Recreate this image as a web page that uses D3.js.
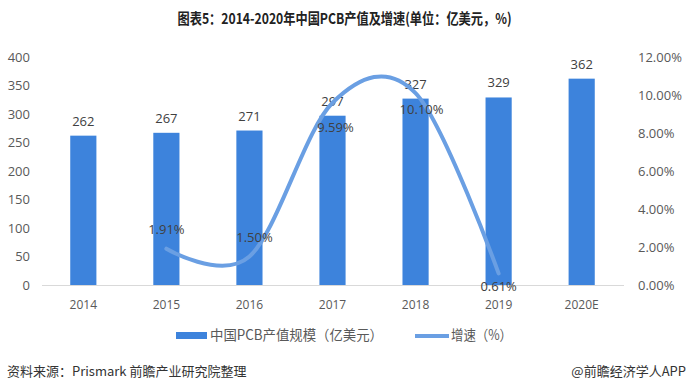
<!DOCTYPE html>
<html><head><meta charset="utf-8">
<script src="https://cdn.jsdelivr.net/npm/d3@7"></script>
<style>body{margin:0;background:#fff;}svg{display:block;font-family:"Noto Sans CJK SC","Microsoft YaHei",sans-serif;}</style>
</head><body>
<svg id="c" width="689" height="392"></svg>
<script>
const categories = ["2014","2015","2016","2017","2018","2019","2020E"];
const values = [262,267,271,297,327,329,362];
const growthYears = ["2015","2016","2017","2018","2019"];
const growth = [1.91,1.50,9.59,10.10,0.61];
const leftTicks = [0,50,100,150,200,250,300,350,400];
const rightTicks = [0,2,4,6,8,10,12];

// label placement (layout, not data)
const growthLabelDx = [0,5,3,6,0];
const growthLabelDy = [-15,-15,29,21,18];

const svg = d3.select("#c");
const W=689,H=392;
svg.append("rect").attr("width",W).attr("height",H).attr("fill","#fff");

const x = d3.scaleBand().domain(categories).range([42,623]).paddingInner(0.685).paddingOuter(0.34);
const y = d3.scaleLinear().domain([0,400]).range([285,57]);
const y2 = d3.scaleLinear().domain([0,12]).range([285,57]);
const cx = d => x(d)+x.bandwidth()/2;
const numFont = "'Open Sans','Noto Sans',sans-serif";

// title
svg.append("text").attr("x",344.5).attr("y",24).attr("text-anchor","middle")
  .attr("font-size",15).attr("font-weight","bold").attr("fill","#222")
  .attr("textLength",334).attr("lengthAdjust","spacingAndGlyphs")
  .text("图表5：2014-2020年中国PCB产值及增速(单位：亿美元，%)");

// left axis
const la = svg.append("g").attr("transform","translate(30,0)")
  .call(d3.axisLeft(y).tickValues(leftTicks).tickSize(0).tickPadding(0));
la.select(".domain").remove();
la.selectAll("text").attr("font-size",13).attr("fill","#595959").attr("font-family",numFont);

// right axis
const ra = svg.append("g").attr("transform","translate(638,0)")
  .call(d3.axisRight(y2).tickValues(rightTicks).tickSize(0).tickPadding(0).tickFormat(d=>d.toFixed(2)+"%"));
ra.select(".domain").remove();
ra.selectAll("text").attr("font-size",13).attr("fill","#595959").attr("font-family",numFont);

// baseline
svg.append("line").attr("x1",42).attr("x2",624).attr("y1",285.5).attr("y2",285.5).attr("stroke","#d9d9d9");

// x axis labels
const xa = svg.append("g").attr("transform","translate(0,298)")
  .call(d3.axisBottom(x).tickSize(0).tickPadding(0));
xa.select(".domain").remove();
xa.selectAll("text").attr("font-size",12).attr("fill","#595959").attr("dy","0.9em").attr("font-family",numFont);

// bars
svg.append("g").selectAll("rect").data(values).join("rect")
  .attr("x",(d,i)=>x(categories[i])).attr("width",x.bandwidth())
  .attr("y",d=>y(d)).attr("height",d=>y(0)-y(d)).attr("fill","#3d83dc");
svg.append("g").selectAll("text").data(values).join("text")
  .attr("x",(d,i)=>cx(categories[i])).attr("y",d=>y(d)-10)
  .attr("text-anchor","middle").attr("font-size",13).attr("fill","#404040")
  .attr("font-family",numFont).text(d=>d);

// line
const pts = growth.map((g,i)=>[cx(growthYears[i]), y2(g)]);
svg.append("path").attr("d", d3.line().curve(d3.curveCardinal.tension(0))(pts))
  .attr("fill","none").attr("stroke","#6a9fe3").attr("stroke-width",4).attr("stroke-linecap","round");
svg.append("g").selectAll("text").data(growth).join("text")
  .attr("x",(d,i)=>pts[i][0]+growthLabelDx[i]).attr("y",(d,i)=>pts[i][1]+growthLabelDy[i])
  .attr("text-anchor","middle").attr("font-size",13).attr("fill","#404040")
  .attr("font-family",numFont).text(d=>d.toFixed(2)+"%");

// legend
svg.append("rect").attr("x",176).attr("y",332).attr("width",31).attr("height",7).attr("fill","#3d83dc");
svg.append("text").attr("x",210).attr("y",340).attr("font-size",14).attr("fill","#595959")
  .attr("textLength",173).attr("lengthAdjust","spacingAndGlyphs").text("中国PCB产值规模（亿美元）");
svg.append("line").attr("x1",415).attr("x2",449).attr("y1",336).attr("y2",336).attr("stroke","#6a9fe3").attr("stroke-width",4);
svg.append("text").attr("x",451).attr("y",340).attr("font-size",14).attr("fill","#595959")
  .attr("textLength",61).attr("lengthAdjust","spacingAndGlyphs").text("增速（%）");

// footer
svg.append("text").attr("x",7).attr("y",376).attr("font-size",13).attr("fill","#333").text("资料来源：Prismark 前瞻产业研究院整理");
svg.append("text").attr("x",686).attr("y",376).attr("text-anchor","end").attr("font-size",13).attr("fill","#333").text("@前瞻经济学人APP");
</script>
</body></html>
